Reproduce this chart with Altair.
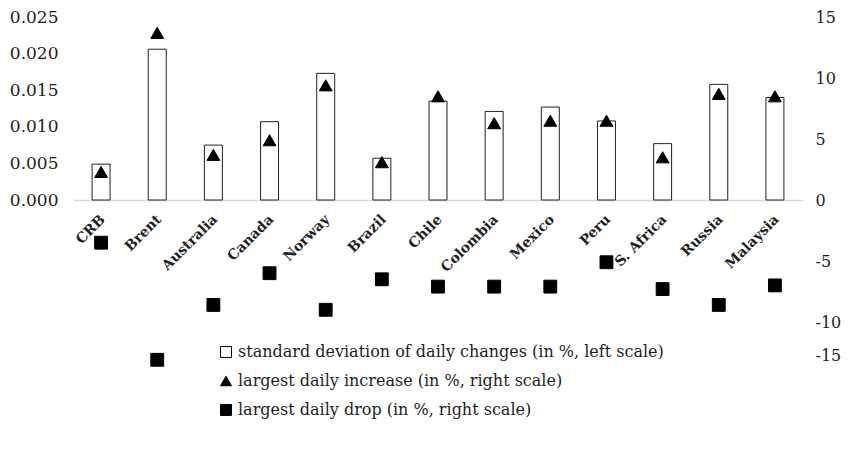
import altair as alt
import pandas as pd

categories = ["CRB", "Brent", "Australia", "Canada", "Norway", "Brazil", "Chile",
              "Colombia", "Mexico", "Peru", "S. Africa", "Russia", "Malaysia"]
std_dev = [0.0049, 0.0206, 0.0075, 0.0107, 0.0173, 0.0057, 0.0135,
           0.0121, 0.0127, 0.0108, 0.0077, 0.0158, 0.0140]
largest_increase = [2.3, 13.7, 3.7, 4.9, 9.4, 3.1, 8.5, 6.3, 6.5, 6.5, 3.5, 8.7, 8.5]
largest_drop = [-3.5, -13.1, -8.6, -6.0, -9.0, -6.5, -7.1, -7.1, -7.1, -5.1, -7.3, -8.6, -7.0]
series_names = ["standard deviation of daily changes (in %, left scale)",
                "largest daily increase (in %, right scale)",
                "largest daily drop (in %, right scale)"]
left_ticks = [0, 0.005, 0.01, 0.015, 0.02, 0.025]
right_ticks = [15, 10, 5, 0, -5, -10, -15]

bars_df = pd.DataFrame({"category": categories, "std": std_dev})
pts_df = pd.DataFrame({
    "category": categories + categories,
    "value": largest_increase + largest_drop,
    "series": [series_names[1]] * len(categories) + [series_names[2]] * len(categories),
})

FONT = "DejaVu Serif"
TXT = "#1e1e1e"
W, H = 730, 366

x_enc = alt.X(
    "category:N", sort=categories,
    scale=alt.Scale(paddingInner=0.68, paddingOuter=0.34),
    axis=alt.Axis(title=None, orient="bottom", offset=-H / 2, labelAngle=-45,
                  labelAlign="right", labelBaseline="middle", labelPadding=17,
                  labelOffset=2,
                  ticks=False, tickSize=0, domainColor="#d9d9d9", domainWidth=1.5,
                  labelFont=FONT, labelFontWeight="bold", labelFontSize=14,
                  labelColor=TXT, grid=False),
)

bars = alt.Chart(bars_df).mark_bar(fill="white", stroke="#222222", strokeWidth=1).encode(
    x=x_enc,
    y=alt.Y("std:Q", scale=alt.Scale(domain=[-0.025, 0.025]),
            axis=alt.Axis(orient="left", values=left_ticks, format=".3f", title=None,
                          grid=False, domain=False, ticks=False, tickSize=0,
                          labelPadding=15, labelFontSize=17, labelFont=FONT,
                          labelColor=TXT)),
)

legend_def = alt.Legend(title=None, orient="none", legendX=145, legendY=327,
                        direction="vertical", symbolSize=120, symbolStrokeColor="black",
                        symbolStrokeWidth=1, labelFontSize=16, labelFont=FONT,
                        labelColor=TXT, rowPadding=13, labelOffset=4, padding=0,
                        labelLimit=0)

points = alt.Chart(pts_df).mark_point(filled=True, size=165, opacity=1, strokeWidth=1).encode(
    x=x_enc,
    y=alt.Y("value:Q", scale=alt.Scale(domain=[-15, 15]),
            axis=alt.Axis(orient="right", values=right_ticks, labelExpr="'' + datum.value",
                          title=None, grid=False, domain=False, ticks=False, tickSize=0,
                          labelPadding=12, labelFontSize=16, labelFont=FONT,
                          labelColor=TXT,
                          labelOffset={"condition": {"test": "datum.value == -15", "value": -28},
                                       "value": 0})),
    fill=alt.Fill("series:N", scale=alt.Scale(domain=series_names,
                                              range=["white", "black", "black"]),
                  legend=legend_def),
    stroke=alt.Stroke("series:N", scale=alt.Scale(domain=series_names,
                                                  range=["black", "black", "black"]),
                      legend=legend_def),
    shape=alt.Shape("series:N", scale=alt.Scale(domain=series_names,
                                                range=["square", "triangle-up", "square"]),
                    legend=legend_def),
)

chart = alt.layer(bars, points).resolve_scale(y="independent").properties(
    width=W, height=H,
    autosize=alt.AutoSizeParams(type="none"),
    padding={"left": 65, "top": 9, "right": 40, "bottom": 50},
).configure_view(stroke=None)

chart.save("out.html", embed_options={"renderer": "svg", "actions": False})
